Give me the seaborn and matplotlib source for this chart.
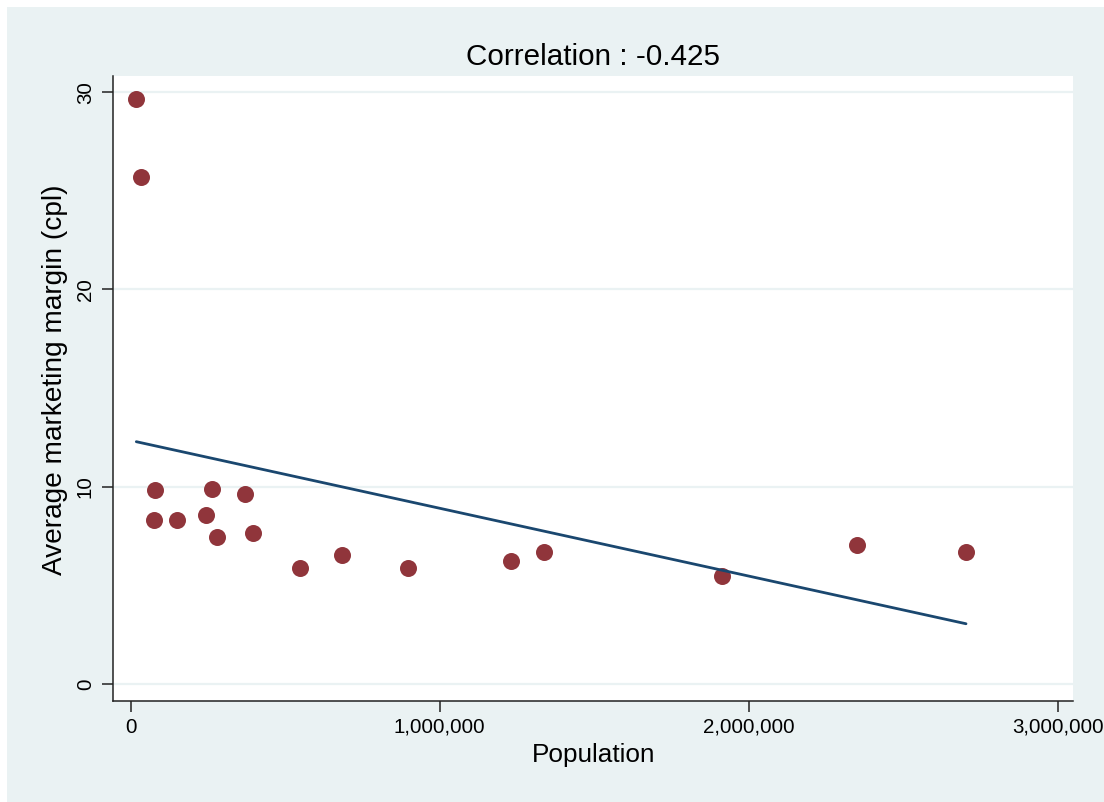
import matplotlib
matplotlib.use("Agg")
import matplotlib.pyplot as plt
from matplotlib.patches import Rectangle
from matplotlib.ticker import FuncFormatter
import seaborn as sns
import pandas as pd

# Population and average marketing margin (cents per litre) by market
population = [18800, 34000, 79000, 76000, 150000, 244000, 263000, 279000,
              370000, 396000, 548000, 684000, 897000, 1230000, 1337000,
              1913000, 2350000, 2702000]
margin = [29.67, 25.70, 9.83, 8.31, 8.31, 8.57, 9.90, 7.47, 9.63, 7.67,
          5.89, 6.54, 5.88, 6.25, 6.69, 5.47, 7.05, 6.71]

x_ticks = [0, 1000000, 2000000, 3000000]
y_ticks = [0, 10, 20, 30]
title = "Correlation : -0.425"
x_label = "Population"
y_label = "Average marketing margin (cpl)"

df = pd.DataFrame({"population": population, "margin": margin})

sns.set_theme(style="white")
plt.rcParams["font.family"] = ["Liberation Sans", "DejaVu Sans"]
plt.rcParams["text.color"] = "black"
plt.rcParams["axes.labelcolor"] = "black"

BG = "#eaf2f3"
MAROON = "#90353b"
NAVY = "#1a476f"

fig = plt.figure(figsize=(11.04, 8.02), dpi=100, facecolor="white")
# outer graph region
fig.patches.append(Rectangle((7 / 1104, 0), 1, 1 - 7 / 802,
                             transform=fig.transFigure, facecolor=BG,
                             edgecolor="none", zorder=-10))

ax = fig.add_axes([113 / 1104, 1 - 701.3 / 802,
                   (1073.3 - 113) / 1104, (701.3 - 76) / 802])
ax.set_zorder(5)
ax.set_facecolor("white")

sns.regplot(data=df, x="population", y="margin", ax=ax, ci=None,
            scatter_kws=dict(s=150, color=MAROON, linewidths=0, alpha=1,
                             zorder=3),
            line_kws=dict(color=NAVY, linewidth=2.0, zorder=4))

ax.set_xlim(-56600, 3049000)
ax.set_ylim(-0.88, 30.82)
ax.set_xticks(x_ticks)
ax.set_yticks(y_ticks)
ax.xaxis.set_major_formatter(FuncFormatter(lambda v, p: f"{int(v):,}"))

ax.yaxis.grid(True, color=BG, linewidth=1.6)
ax.xaxis.grid(False)
ax.set_axisbelow(True)

for side in ("top", "right"):
    ax.spines[side].set_visible(False)
for side in ("left", "bottom"):
    ax.spines[side].set_color("#222222")
    ax.spines[side].set_linewidth(1.1)

ax.tick_params(axis="both", which="major", direction="out", length=8,
               width=1.1, color="#222222", labelsize=14.8,
               labelcolor="black", left=True, bottom=True)
ax.tick_params(axis="x", pad=4)
ax.tick_params(axis="y", pad=5, labelrotation=90)
for lab in ax.get_yticklabels():
    lab.set_va("center")

ax.set_xlabel(x_label, fontsize=18.8, labelpad=4)
ax.set_ylabel(y_label, fontsize=20.2, labelpad=6)
ax.yaxis.label.set_y(0.515)
ax.set_title(title, fontsize=21.3, pad=8)

fig.savefig("out.png", dpi=100, facecolor=fig.get_facecolor())
